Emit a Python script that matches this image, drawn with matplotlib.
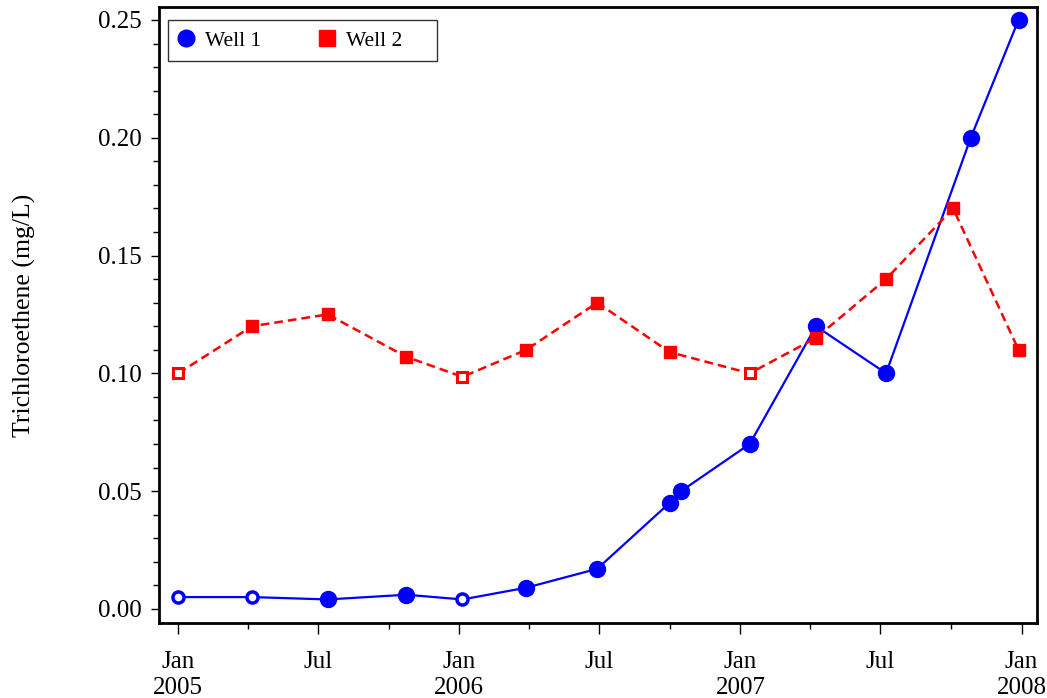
import matplotlib
matplotlib.use("Agg")
import matplotlib.pyplot as plt
import matplotlib.dates as mdates
from matplotlib.lines import Line2D
from matplotlib.patches import Rectangle
import numpy as np
import pandas as pd

# ---------------- data ----------------
well1_dates = ["2005-01-01", "2005-04-07", "2005-07-14", "2005-10-24", "2006-01-05",
               "2006-03-29", "2006-06-29", "2006-10-01", "2006-10-16", "2007-01-13",
               "2007-04-09", "2007-07-09", "2007-10-27", "2007-12-28"]
well1_values = [0.005, 0.005, 0.004, 0.006, 0.004, 0.009, 0.017, 0.045, 0.050, 0.070,
                0.120, 0.100, 0.200, 0.250]
well1_nondetect = [True, True, False, False, True, False, False, False, False, False,
                   False, False, False, False]

well2_dates = ["2005-01-01", "2005-04-07", "2005-07-14", "2005-10-24", "2006-01-05",
               "2006-03-29", "2006-06-29", "2006-10-01", "2007-01-13", "2007-04-09",
               "2007-07-09", "2007-10-04", "2007-12-28"]
well2_values = [0.100, 0.120, 0.125, 0.107, 0.0985, 0.110, 0.130, 0.109, 0.100, 0.115,
                0.140, 0.170, 0.110]
well2_nondetect = [True, False, False, False, True, False, False, False, True, False,
                   False, False, False]

series_names = ["Well 1", "Well 2"]
y_label = "Trichloroethene (mg/L)"
x_tick_dates = ["2005-01-01", "2005-07-01", "2006-01-01", "2006-07-01",
                "2007-01-01", "2007-07-01", "2008-01-01"]
x_tick_labels = ["Jan\n2005", "Jul", "Jan\n2006", "Jul", "Jan\n2007", "Jul", "Jan\n2008"]

# ---------------- style ----------------
plt.rcParams["font.family"] = ["Liberation Serif", "DejaVu Serif"]
BLUE = "#0000FF"
RED = "#FF0000"

fig = plt.figure(figsize=(10.47, 6.98), dpi=100)
ax = fig.add_axes([159 / 1047, 1 - 623 / 698, 878 / 1047, 616 / 698])

d1 = pd.to_datetime(well1_dates)
d2 = pd.to_datetime(well2_dates)
v1 = np.array(well1_values)
v2 = np.array(well2_values)
nd1 = np.array(well1_nondetect)
nd2 = np.array(well2_nondetect)

# Well 1
ax.plot(d1, v1, color=BLUE, lw=1.6, zorder=2)
ax.plot(d1[~nd1], v1[~nd1], ls="none", marker="o", ms=11.5, color=BLUE, zorder=3)
ax.plot(d1[nd1], v1[nd1], ls="none", marker="o", ms=8.0, mfc="white", mec=BLUE,
        mew=2.5, zorder=3)

# Well 2
ax.plot(d2, v2, color=RED, lw=1.8, ls=(0, (3.5, 2.0)), zorder=4)
ax.plot(d2[~nd2], v2[~nd2], ls="none", marker="s", ms=9, color=RED, zorder=5)
ax.plot(d2[nd2], v2[nd2], ls="none", marker="s", ms=7.5, mfc="white", mec=RED,
        mew=2.2, zorder=5)

# axes limits
ax.set_xlim(pd.Timestamp("2004-12-07"), pd.Timestamp("2008-01-21"))
ax.set_ylim(-0.006, 0.2555)

# x ticks
ax.set_xticks(pd.to_datetime(x_tick_dates))
ax.set_xticklabels(x_tick_labels)
ax.xaxis.set_minor_locator(mdates.MonthLocator(bymonth=[4, 10]))

# y ticks
ax.yaxis.set_major_locator(matplotlib.ticker.MultipleLocator(0.05))
ax.yaxis.set_minor_locator(matplotlib.ticker.MultipleLocator(0.01))
ax.yaxis.set_major_formatter(matplotlib.ticker.FormatStrFormatter("%.2f"))

ax.tick_params(axis="both", which="major", direction="out", labelsize=18,
               width=1.0, color="black")
ax.tick_params(axis="x", which="major", length=8, pad=12.5)
ax.tick_params(axis="x", which="minor", length=4, width=1.0)
ax.tick_params(axis="y", which="major", length=6, pad=6.5)
ax.tick_params(axis="y", which="minor", length=4, width=1.0)

for s in ax.spines.values():
    s.set_linewidth(2.0)
    s.set_color("black")

ax.set_ylabel(y_label, fontsize=18.5)
ax.yaxis.set_label_coords(-0.14, 0.5)

# legend
handles = [
    Line2D([], [], ls="none", marker="o", ms=12, color=BLUE),
    Line2D([], [], ls="none", marker="s", ms=11, color=RED),
]
leg = ax.legend(handles, series_names, loc="upper left",
                bbox_to_anchor=((168 - 159) / 878, (623 - 23) / 616),
                borderaxespad=0, ncol=2, frameon=False, fontsize=15.5,
                handlelength=1.0, handletextpad=0.35, columnspacing=2.6,
                borderpad=0.35)
rect = Rectangle(((168 - 159) / 878, (623 - 61) / 616), 269 / 878, 41 / 616,
                 transform=ax.transAxes, fill=False, ec="#333333", lw=1.0,
                 zorder=10)
ax.add_patch(rect)

fig.savefig("out.png", dpi=100)
